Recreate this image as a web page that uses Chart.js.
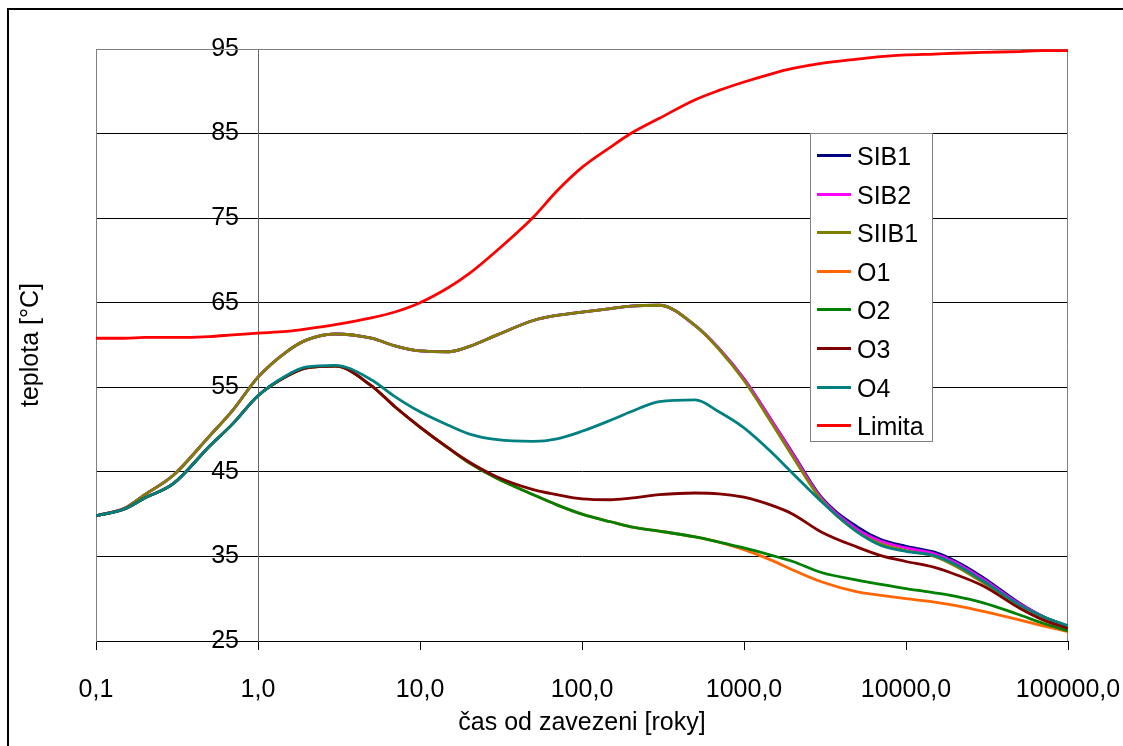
<!DOCTYPE html>
<html>
<head>
<meta charset="utf-8">
<script src="https://cdn.jsdelivr.net/npm/chart.js@4.4.1/dist/chart.umd.min.js"></script>
<style>
    body    { margin: 0; background: #fff; overflow: hidden; }
    #wrap   { position: relative; width: 1123px; height: 746px; overflow: hidden; }
    #frame  { position: absolute; left: 7px; top: 8px; width: 1200px; height: 800px; border: 2px solid #000; }
    #graph  { position: absolute; left: 0; top: 0; }
    #legend { position: absolute; left: 810px; top: 133px; width: 121px; height: 307px; border: 1px solid #808080; background: #fff;
              font-family: "Liberation Sans", Arial, sans-serif; font-size: 25px; color: #000; }
    .item   { position: absolute; left: 0; height: 38px; line-height: 38px; padding-left: 46px; white-space: nowrap; }
    .item span { position: absolute; left: 6px; top: 17px; width: 34px; height: 3px; }
</style>
</head>
<body>
<div id="wrap">
    <div id="frame"></div>
    <canvas id="graph" width="1123" height="746"></canvas>
    <div id="legend"></div>
</div>
<script>
// cas od zavezeni [roky]
const years  = [0.1, 0.15, 0.2, 0.3, 0.5, 0.7, 1, 1.5, 2, 3, 5, 7, 10, 15, 20, 30, 50, 70, 100, 150, 200, 300, 500, 700,
                1000, 1500, 2000, 3000, 5000, 7000, 10000, 15000, 20000, 30000, 50000, 70000, 100000];
const tick_years = [0.1, 1, 10, 100, 1000, 10000, 100000];

const sib1   = [39.8, 40.7, 42.3, 44.6, 49.2, 52.3, 56.2, 59.2, 60.6, 61.3, 60.8, 59.9, 59.3, 59.2, 59.8, 61.2, 62.9, 63.5, 63.9, 64.3, 64.6, 64.7, 62.3, 59.6,
                56.0, 50.9, 47.2, 42.0, 38.5, 37.0, 36.2, 35.5, 34.5, 32.5, 29.5, 27.9, 26.7];
const sib2   = [39.8, 40.7, 42.3, 44.6, 49.2, 52.3, 56.2, 59.2, 60.6, 61.3, 60.8, 59.9, 59.3, 59.2, 59.8, 61.2, 62.9, 63.5, 63.9, 64.3, 64.6, 64.7, 62.3, 59.6,
                56.0, 50.9, 47.1, 41.9, 38.2, 36.8, 36.0, 35.3, 34.3, 32.3, 29.4, 27.9, 26.7];
const siib1  = [39.8, 40.7, 42.3, 44.6, 49.2, 52.3, 56.2, 59.2, 60.6, 61.3, 60.8, 59.9, 59.3, 59.2, 59.8, 61.2, 62.9, 63.5, 63.9, 64.3, 64.6, 64.7, 62.3, 59.5,
                55.8, 50.6, 46.8, 41.7, 37.9, 36.5, 35.7, 35.0, 33.9, 31.9, 29.2, 27.8, 26.7];
const o1     = [39.8, 40.6, 41.9, 43.6, 48.0, 50.7, 54.0, 56.3, 57.3, 57.5, 55.2, 52.7, 50.3, 47.8, 46.1, 44.2, 42.3, 41.1, 40.0, 39.1, 38.5, 38.0, 37.3, 36.7,
                35.8, 34.5, 33.4, 32.0, 30.8, 30.4, 30.0, 29.6, 29.2, 28.5, 27.5, 26.8, 26.1];
const o2     = [39.8, 40.6, 41.9, 43.6, 48.0, 50.7, 54.0, 56.3, 57.3, 57.5, 55.2, 52.7, 50.3, 47.8, 46.1, 44.2, 42.3, 41.1, 40.0, 39.1, 38.5, 38.0, 37.3, 36.7,
                36.0, 35.1, 34.4, 33.1, 32.2, 31.7, 31.2, 30.7, 30.3, 29.5, 28.1, 27.1, 26.2];
const o3     = [39.8, 40.6, 41.9, 43.6, 48.0, 50.7, 54.0, 56.3, 57.3, 57.5, 55.2, 52.7, 50.3, 47.8, 46.2, 44.4, 42.9, 42.3, 41.8, 41.7, 41.9, 42.3, 42.5, 42.4,
                42.0, 41.0, 40.0, 37.9, 36.1, 35.1, 34.4, 33.7, 32.9, 31.5, 28.9, 27.5, 26.5];
const o4     = [39.8, 40.6, 41.9, 43.6, 48.0, 50.7, 54.0, 56.4, 57.4, 57.6, 55.9, 53.9, 52.1, 50.5, 49.5, 48.8, 48.6, 48.9, 49.8, 51.1, 52.1, 53.3, 53.5, 52.1,
                50.2, 47.2, 44.8, 41.5, 37.9, 36.3, 35.6, 35.1, 34.1, 32.1, 29.3, 27.9, 26.8];
const limita = [60.8, 60.8, 60.9, 60.9, 61.0, 61.2, 61.4, 61.6, 61.9, 62.4, 63.2, 63.9, 65.0, 66.8, 68.4, 71.2, 75.1, 78.2, 81.0, 83.4, 85.0, 86.8, 89.0, 90.1,
                91.1, 92.1, 92.7, 93.3, 93.8, 94.1, 94.3, 94.4, 94.5, 94.6, 94.7, 94.8, 94.8];

const names  = ["SIB1", "SIB2", "SIIB1", "O1", "O2", "O3", "O4", "Limita"];
const colors = ["#000080", "#ff00ff", "#808000", "#ff6600", "#008000", "#800000", "#008080", "#ff0000"];
const series = [sib1, sib2, siib1, o1, o2, o3, o4, limita];

const FONT = "'Liberation Sans', Arial, sans-serif";

window.addEventListener("load", function (){
    draw_legend();
    draw_graph();
});

function draw_legend(){
    let legend = document.getElementById("legend");
    for (let i = 0; i < names.length; i++){
        let item = document.createElement("div");
        item.className  = "item";
        item.style.top  = String(3 + i * 38.6) + "px";
        item.innerHTML  = '<span style="background:' + colors[i] + '"></span>' + names[i];
        legend.appendChild(item);
    }
}

// top and right edge of the plot area
const frame_plugin = {
    id: "plot_frame",
    beforeDatasetsDraw(chart){
        const a   = chart.chartArea;
        const ctx = chart.ctx;
        ctx.save();
        ctx.strokeStyle = "#808080";
        ctx.lineWidth   = 1;
        ctx.beginPath();
        ctx.moveTo(a.left, a.top + 0.5);
        ctx.lineTo(a.right - 0.5, a.top + 0.5);
        ctx.lineTo(a.right - 0.5, a.bottom);
        ctx.stroke();
        ctx.restore();
    }
};

function draw_graph(){
    let datasets = [];
    for (let i = 0; i < series.length; i++){
        datasets.push({
            label: names[i],
            data: years.map((x, j) => ({ x: x, y: series[i][j] })),
            borderColor: colors[i],
            backgroundColor: colors[i],
            borderWidth: 2.8,
            pointRadius: 0,
            cubicInterpolationMode: "monotone",
            order: series.length - i
        });
    }

    const ctx     = document.getElementById("graph").getContext("2d");
    const myChart = new Chart(ctx, {
        type: "line",
        data: { datasets: datasets },
        options: {
            responsive: false,
            animation: false,
            layout: { padding: { top: 49, right: 55, bottom: 0, left: 0 } },
            scales: {
                x: {
                    type: "logarithmic",
                    position: "bottom",
                    min: 0.1,
                    max: 100000,
                    afterBuildTicks: function(scale){
                        scale.ticks = tick_years.map(v => ({ value: v, major: true }));
                    },
                    ticks: {
                        autoSkip: false,
                        maxRotation: 0,
                        padding: 0,
                        color: "#000",
                        font: { family: FONT, size: 25 },
                        callback: function(value){ return Number(value).toFixed(1).replace(".", ","); }
                    },
                    // long tick so the labels sit low, dashed so only 8px shows
                    grid: { drawOnChartArea: false, drawTicks: true, tickLength: 34, tickBorderDash: [8, 80], color: "#000" },
                    border: { color: "#000", width: 1 },
                    title: {
                        display: true,
                        text: "čas od zavezeni [roky]",
                        color: "#000",
                        font: { family: FONT, size: 25 },
                        padding: { top: 3, bottom: 8 }
                    }
                },
                y: {
                    position: "left",
                    min: 25,
                    max: 95,
                    ticks: { display: false, stepSize: 10 },
                    grid: {
                        drawTicks: false,
                        color: function(c){ return c.tick && c.tick.value === 95 ? "#808080" : "#000"; }
                    },
                    border: { color: "#808080", width: 1 },
                    title: {
                        display: true,
                        text: "teplota [°C]",
                        color: "#000",
                        font: { family: FONT, size: 25 },
                        padding: { top: 16, bottom: 50 }
                    }
                },
                // value axis line crossing at 1,0
                y3: {
                    axis: "y",
                    position: { x: 1 },
                    min: 25,
                    max: 95,
                    ticks: { display: false, stepSize: 10 },
                    grid: { drawOnChartArea: false, drawTicks: true, tickLength: 8, color: "#000" },
                    border: { color: "#666", width: 1 }
                },
                // its labels, a bit left of the line
                y2: {
                    axis: "y",
                    position: { x: 0.763 },
                    min: 25,
                    max: 95,
                    ticks: {
                        stepSize: 10,
                        color: "#000",
                        font: { family: FONT, size: 25 }
                    },
                    grid: { display: false },
                    border: { display: false }
                }
            },
            plugins: {
                legend: { display: false },
                tooltip: { enabled: false }
            }
        },
        plugins: [ frame_plugin ]
    });
}
</script>
</body>
</html>
